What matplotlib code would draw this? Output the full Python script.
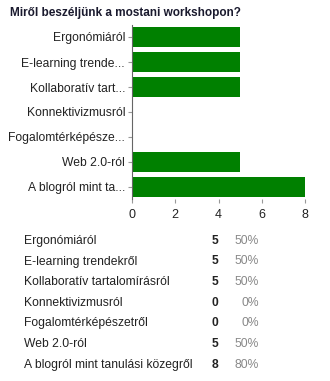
import matplotlib.pyplot as plt

plt.rcParams['font.family'] = ['Liberation Sans', 'DejaVu Sans']

title = 'Miről beszéljünk a mostani workshopon?'
short_labels = ['Ergonómiáról', 'E-learning trende...', 'Kollaboratív tart...',
                'Konnektivizmusról', 'Fogalomtérképésze...', 'Web 2.0-ról',
                'A blogról mint ta...']
full_labels = ['Ergonómiáról', 'E-learning trendekről', 'Kollaboratív tartalomírásról',
               'Konnektivizmusról', 'Fogalomtérképészetről', 'Web 2.0-ról',
               'A blogról mint tanulási közegről']
counts = [5, 5, 5, 0, 0, 5, 8]
percents = [50, 50, 50, 0, 0, 50, 80]
xticks = [0, 2, 4, 6, 8]

W, H = 330, 381
fig = plt.figure(figsize=(W / 100, H / 100), dpi=100)

fig.text(10 / W, 1 - 13 / H, title, fontsize=8.5, fontweight='bold',
         color='#1a1a2e', va='center', ha='left')

ax = fig.add_axes([132 / W, 1 - 199.5 / H, 173 / W, 175 / H])
y = list(range(len(counts)))
ax.barh(y, counts, height=0.8, color='#008000')
ax.set_xlim(0, 8)
ax.set_ylim(len(counts) - 0.5, -0.5)
ax.set_yticks(y)
ax.set_yticklabels(short_labels, fontsize=8.7, color='#222222')
ax.set_xticks(xticks)
ax.set_xticklabels([str(t) for t in xticks], fontsize=9, color='#222222')
for side in ['top', 'right', 'bottom']:
    ax.spines[side].set_visible(False)
ax.spines['left'].set_color('#666666')
ax.tick_params(axis='both', colors='#999999', length=3, width=0.8, labelcolor='#222222')
ax.tick_params(axis='y', pad=2)

row_y = [241, 261.5, 282, 302.5, 323, 344, 365]
for lab, c, p, ry in zip(full_labels, counts, percents, row_y):
    yy = 1 - ry / H
    fig.text(24 / W, yy, lab, fontsize=8.7, color='#222222', va='center', ha='left')
    fig.text(218 / W, yy, str(c), fontsize=8.7, fontweight='bold', color='#222222',
             va='center', ha='right')
    fig.text(259 / W, yy, f'{p}%', fontsize=8.7, color='#888888', va='center', ha='right')

fig.savefig('out.png', dpi=100)
